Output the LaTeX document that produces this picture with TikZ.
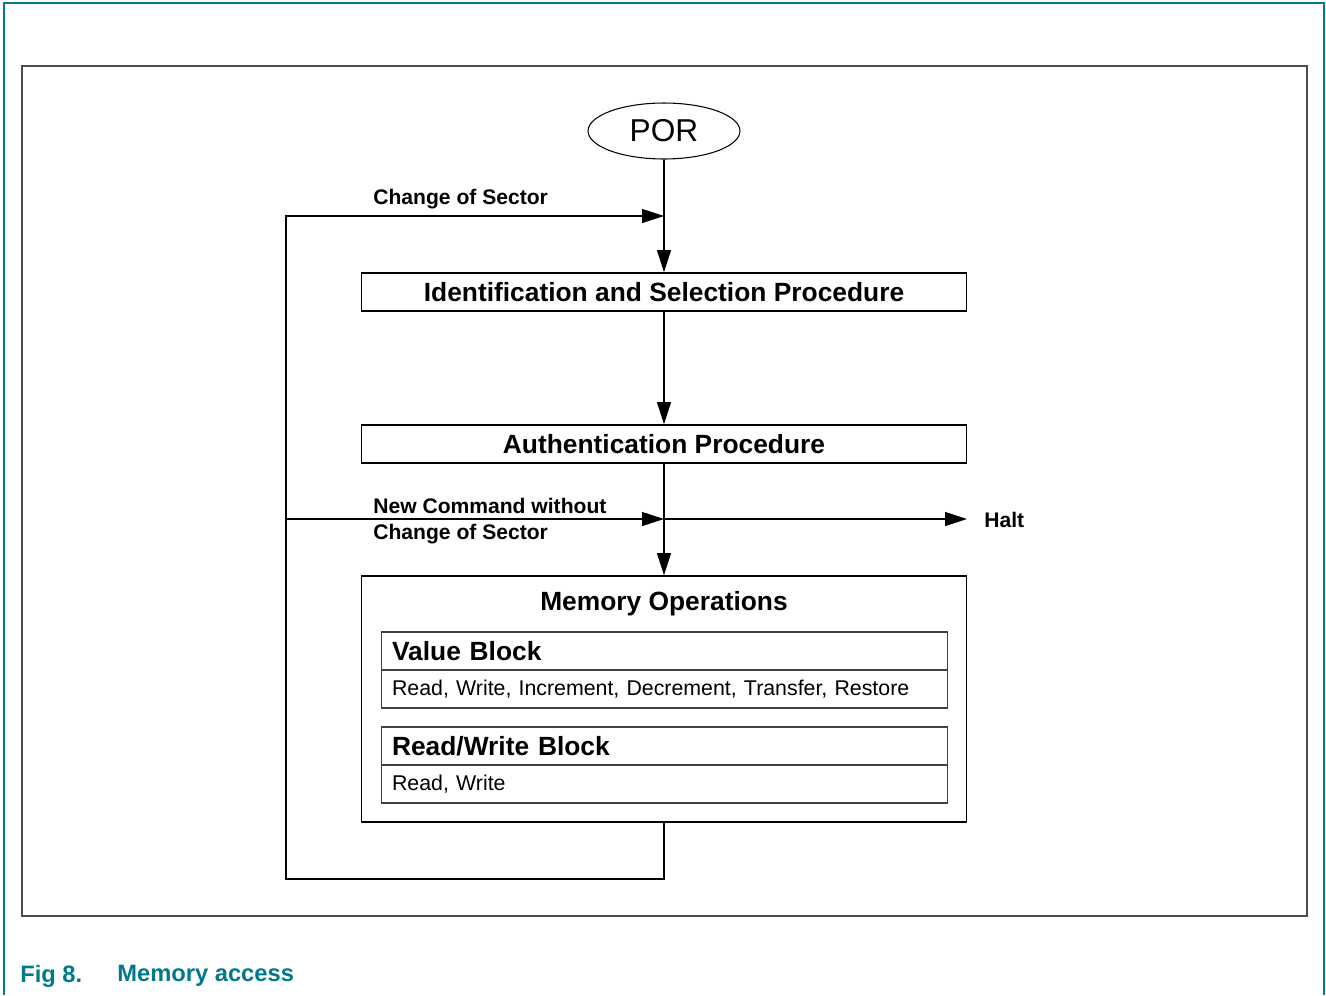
\documentclass[tikz,border=0pt]{standalone}
\usepackage{fontspec}
\setmainfont{Liberation Sans}
\usepackage{tikz}
\usetikzlibrary{arrows.meta}
\usetikzlibrary{shapes.geometric}
\definecolor{figteal}{RGB}{0,121,140}

\begin{document}
\begin{tikzpicture}[x=0.02cm,y=-0.02cm,
  >={Triangle[length=0.44cm,width=0.28cm]},
  procbox/.style={draw, line width=1pt, minimum width=12.1cm, minimum height=0.76cm, inner sep=0pt, font=\fontsize{15}{18}\selectfont\bfseries},
  blkhead/.style={draw=black!75, line width=0.6pt, minimum width=11.34cm, minimum height=0.76cm, inner xsep=0.22cm, inner ysep=0pt, text width=10.9cm, align=left, font=\fontsize{15}{18}\selectfont\bfseries},
  blkbody/.style={blkhead, font=\fontsize{12.15}{14}\selectfont},
  lbl/.style={anchor=west, inner sep=0pt, align=left, font=\fontsize{12}{14.8}\selectfont\bfseries}]
\useasboundingbox (0,0) rectangle (1326,995);
% draws frames
\draw[figteal, line width=1pt] (4,995) -- (4,3) -- (1324,3) -- (1324,995);
\draw[black!70, line width=1pt] (22,66) rectangle (1307,916);
\coordinate (lowr) at (664,879);
\coordinate (lowl) at (286,879);
\coordinate (upl) at (286,216);
\coordinate (upr) at (664,216);
\coordinate (midl) at (286,519);
\coordinate (midr) at (664,519);
\coordinate (haltp) at (967,519);
% draws boxes
\node[ellipse, draw, line width=0.6pt, minimum width=3.04cm, minimum height=1.12cm, inner sep=0pt, font=\fontsize{18}{20}\selectfont] (por) at (664,131) {POR};
\node[procbox] (idp) at (664,292) {Identification and Selection Procedure};
\node[procbox] (auth) at (664,444) {Authentication Procedure};
\node[draw, line width=1pt, minimum width=12.1cm, minimum height=4.92cm] (mem) at (664,699) {};
\node[font=\fontsize{15}{18}\selectfont\bfseries] (memt) at (664,604) {Memory Operations};
\node[blkhead] (vbh) at (664.5,651) {Value Block};
\node[blkbody] (vbb) at (664.5,689) {Read, Write, Increment, Decrement, Transfer, Restore};
\node[blkhead] (rwh) at (664.5,746) {Read/Write Block};
\node[blkbody] (rwb) at (664.5,784) {Read, Write};
% labels edges
\node[lbl] (chs) at (373,199) {Change of Sector};
\node[lbl] (ncmd) at (373,521) {New Command without\\Change of Sector};
\node[lbl] (halt) at (984,520) {Halt};
% caption
\node[anchor=west, inner sep=0pt, text=figteal, font=\fontsize{13.5}{16}\selectfont\bfseries] (fign) at (20,976) {Fig 8.};
\node[anchor=west, inner sep=0pt, text=figteal, font=\fontsize{13.5}{16}\selectfont\bfseries] (figt) at (117,976) {Memory access};
% draws edges
\begin{scope}[line width=0.6pt]
\draw[->] (por) -- (idp);
\draw[->] (idp) -- (auth);
\draw[->] (auth) -- (mem);
\draw[->] (mem.south) -- (lowr) -- (lowl) -- (upl) -- (upr);
\draw[->] (midl) -- (midr);
\draw[->] (midr) -- (haltp);
\end{scope}
\end{tikzpicture}
\end{document}
